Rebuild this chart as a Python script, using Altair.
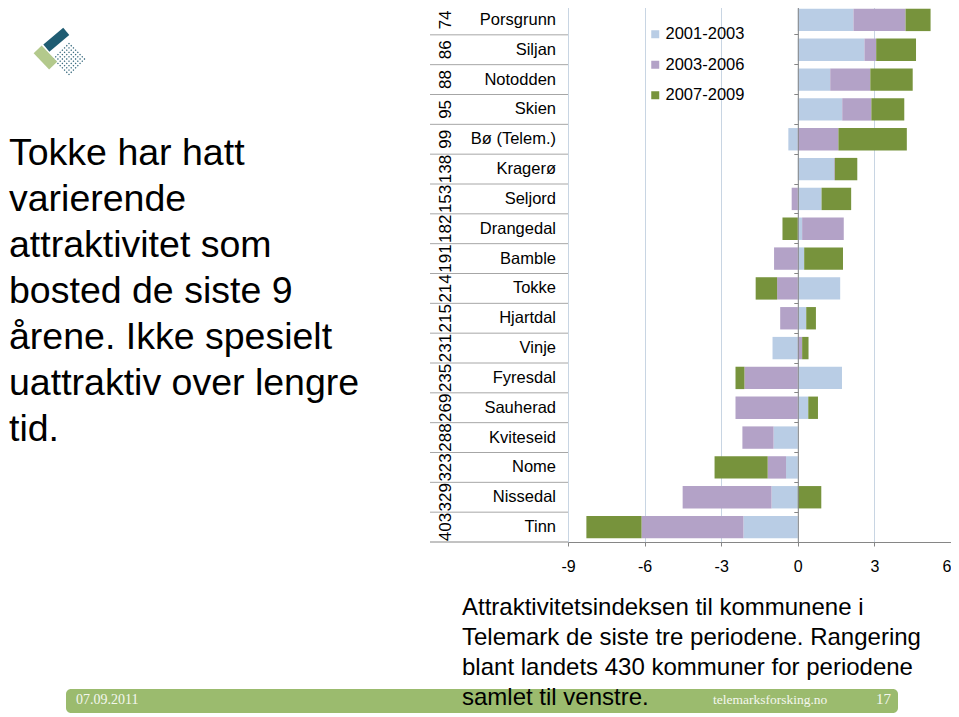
import altair as alt
import pandas as pd

# ---------------- data ----------------
names = ["Porsgrunn", "Siljan", "Notodden", "Skien", "Bø (Telem.)", "Kragerø",
         "Seljord", "Drangedal", "Bamble", "Tokke", "Hjartdal", "Vinje",
         "Fyresdal", "Sauherad", "Kviteseid", "Nome", "Nissedal", "Tinn"]
ranks = ["74", "86", "88", "95", "99", "138", "153", "182", "191", "214",
         "215", "231", "235", "269", "288", "323", "329", "403"]
periods = ["2001-2003", "2003-2006", "2007-2009"]
v_2001_2003 = [2.18, 2.61, 1.27, 1.74, -0.37, 1.42, 0.93, 0.17, 0.25, 1.66,
               0.33, -0.99, 1.73, 0.41, -0.95, -0.46, -1.03, -2.13]
v_2003_2006 = [2.04, 0.46, 1.57, 1.14, 1.59, 0.03, -0.24, 1.63, -0.93, -0.81,
               -0.69, 0.17, -2.09, -2.44, -1.22, -0.72, -3.48, -3.99]
v_2007_2009 = [0.98, 1.56, 1.66, 1.29, 2.68, 0.88, 1.16, -0.60, 1.52, -0.84,
               0.38, 0.25, -0.35, 0.38, 0.0, -2.08, 0.92, -2.16]
x_ticks = [-9, -6, -3, 0, 3, 6]
x_domain = [-9, 6]
colors = ["#B9CDE5", "#B3A2C7", "#77933C"]

title_lines = ["Tokke har hatt", "varierende", "attraktivitet som",
               "bosted de siste 9", "årene. Ikke spesielt",
               "uattraktiv over lengre", "tid."]
caption_lines = ["Attraktivitetsindeksen til kommunene i",
                 "Telemark de siste tre periodene. Rangering",
                 "blant landets 430 kommuner for periodene",
                 "samlet til venstre."]
footer_date = "07.09.2011"
footer_site = "telemarksforsking.no"
footer_page = "17"

rows = []
for i, n in enumerate(names):
    for j, vals in enumerate([v_2001_2003, v_2003_2006, v_2007_2009]):
        rows.append({"kommune": n, "rang": ranks[i], "periode": periods[j],
                     "ordning": j, "verdi": vals[i]})
df = pd.DataFrame(rows)
lab = pd.DataFrame({"kommune": names, "rang": ranks})
one = pd.DataFrame({"a": [0]})

# ---------------- layout ----------------
W, H = 383, 537
PAD_TOP = -3
FONT = "Liberation Sans"
SERIF = "Liberation Serif"
GRAY = "#868686"
zero_offset = -W * (0 - x_domain[0]) / (x_domain[1] - x_domain[0])


def Y(**kw):
    return alt.Y(
        "kommune:N", sort=names, title=None,
        scale=alt.Scale(paddingInner=0, paddingOuter=0),
        axis=alt.Axis(labels=False, ticks=True, tickSize=4, bandPosition=0,
                      domainColor=GRAY, tickColor=GRAY, offset=zero_offset,
                      zindex=1, grid=False, title=None),
        **kw)


bars = alt.Chart(df).mark_bar(height={"band": 0.75}).encode(
    y=Y(),
    x=alt.X("verdi:Q", stack="zero",
            scale=alt.Scale(domain=x_domain, nice=False, zero=False),
            axis=alt.Axis(values=x_ticks, grid=True, gridColor="#C8D5E3",
                          domainColor=GRAY, tickColor=GRAY, tickSize=4,
                          labelFontSize=16, labelColor="#000", labelFont=FONT,
                          labelPadding=12, labelFlush=False, title=None,
                          labelExpr="'' + datum.value",
                          labelAlign={"condition": {"test": "datum.value == 6",
                                                    "value": "right"},
                                      "value": "center"})),
    color=alt.Color("periode:N", scale=alt.Scale(domain=periods, range=colors),
                    legend=alt.Legend(title=None, orient="none", legendX=79,
                                      legendY=21, symbolType="square",
                                      symbolSize=64, symbolStrokeWidth=0,
                                      labelFontSize=16.5, labelFont=FONT,
                                      labelColor="#000", rowPadding=13.5,
                                      labelOffset=2)),
    order=alt.Order("ordning:Q", sort="ascending"),
)

seps = alt.Chart(lab).mark_rule(color="#A6A6A6").encode(
    y=Y(bandPosition=0), x=alt.value(-138), x2=alt.value(0))
bottom_sep = alt.Chart(one).mark_rule(color=GRAY).encode(
    y=alt.value(H), x=alt.value(-138), x2=alt.value(0))

name_txt = alt.Chart(lab).mark_text(
    align="right", baseline="middle", fontSize=16.5, font=FONT, color="#000"
).encode(y=Y(), x=alt.value(-12), text="kommune:N")

rank_txt = alt.Chart(lab).mark_text(
    align="center", baseline="middle", angle=270, fontSize=17, font=FONT,
    color="#000"
).encode(y=Y(), x=alt.value(-122), text="rang:N")

title_txt = alt.Chart(one).mark_text(
    text=title_lines, align="left", baseline="alphabetic", fontSize=37.5,
    lineHeight=46, font=FONT, color="#000"
).encode(x=alt.value(-559), y=alt.value(160))

footer_band = alt.Chart(one).mark_rect(cornerRadius=5, color="#9BBB6E").encode(
    x=alt.value(-502), x2=alt.value(330), y=alt.value(684), y2=alt.value(708))

foot_date = alt.Chart(one).mark_text(
    text=footer_date, align="left", baseline="alphabetic", fontSize=14,
    font=SERIF, color="#F4F7EE").encode(x=alt.value(-492), y=alt.value(699))
foot_site = alt.Chart(one).mark_text(
    text=footer_site, align="left", baseline="alphabetic", fontSize=13.5,
    font=SERIF, color="#F4F7EE").encode(x=alt.value(145), y=alt.value(699))
foot_page = alt.Chart(one).mark_text(
    text=footer_page, align="left", baseline="alphabetic", fontSize=15,
    font=SERIF, color="#F4F7EE").encode(x=alt.value(308), y=alt.value(699))

caption_txt = alt.Chart(one).mark_text(
    text=caption_lines, align="left", baseline="alphabetic", fontSize=24,
    lineHeight=30, font=FONT, color="#000"
).encode(x=alt.value(-106), y=alt.value(610))

# logo
rect_path = "M -1 -0.36 L 1 -0.36 L 1 0.36 L -1 0.36 Z"
rect2_path = "M -1 -0.5 L 1 -0.5 L 1 0.5 L -1 0.5 Z"
dots = []
n_d = 8
for a in range(n_d):
    for b in range(n_d):
        cx = -1 + (a + 0.5) * 2 / n_d
        cy = -1 + (b + 0.5) * 2 / n_d
        d = 0.05
        dots.append(f"M {cx-d:.3f} {cy-d:.3f} L {cx+d:.3f} {cy-d:.3f} "
                    f"L {cx+d:.3f} {cy+d:.3f} L {cx-d:.3f} {cy+d:.3f} Z")
dots_path = " ".join(dots)

logo_dots = alt.Chart(one).mark_point(
    shape=dots_path, size=625, angle=45, filled=True, opacity=1,
    color="#2E6378", strokeWidth=0.6).encode(x=alt.value(-499), y=alt.value(54))
logo_dark = alt.Chart(one).mark_point(
    shape=rect_path, size=676, angle=320, filled=True, opacity=1,
    color="#1F5C72").encode(x=alt.value(-511.7), y=alt.value(34.7))
logo_light = alt.Chart(one).mark_point(
    shape=rect2_path, size=497, angle=46, filled=True, opacity=1,
    color="#B3C98C").encode(x=alt.value(-522.6), y=alt.value(52.5))

chart = alt.layer(
    seps, bottom_sep, bars, name_txt, rank_txt, title_txt,
    logo_dots, logo_dark, logo_light,
    footer_band, foot_date, foot_site, foot_page, caption_txt
).properties(
    width=W, height=H,
    padding={"left": 560, "top": PAD_TOP, "right": 0, "bottom": 175},
    autosize=alt.AutoSizeParams(type="none"),
    background="white",
).configure_view(stroke=None)

chart.save("out.html", embed_options={"renderer": "svg", "actions": False})
